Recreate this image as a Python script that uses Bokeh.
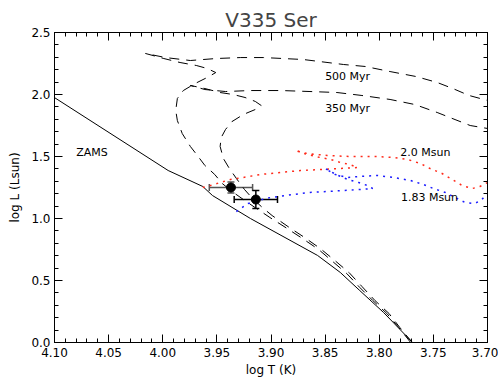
from bokeh.plotting import figure
from bokeh.models import (Range1d, FixedTicker, LinearAxis, Whisker, ColumnDataSource, TeeHead,
                          Label, CustomJSTickFormatter)
from bokeh.embed import file_html
from bokeh.resources import INLINE

# ---------------- data ----------------
x_ticks = [4.10, 4.05, 4.00, 3.95, 3.90, 3.85, 3.80, 3.75, 3.70]
x_tick_labels = ["4.10", "4.05", "4.00", "3.95", "3.90", "3.85", "3.80", "3.75", "3.70"]
y_ticks = [0.0, 0.5, 1.0, 1.5, 2.0, 2.5]
y_tick_labels = ["0.0", "0.5", "1.0", "1.5", "2.0", "2.5"]

zams_logT = [4.100, 3.995, 3.963, 3.954, 3.919, 3.857, 3.836, 3.818, 3.796, 3.767]
zams_logL = [1.975, 1.387, 1.258, 1.185, 1.000, 0.702, 0.565, 0.419, 0.242, -0.02]

iso500_logT = [3.771, 3.782, 3.793, 3.806, 3.818, 3.830, 3.843, 3.856, 3.871, 3.885,
               3.901, 3.9135, 3.9255, 3.936, 3.945, 3.952, 3.961, 3.968, 3.9745, 3.982,
               3.9865, 3.988, 3.9865, 3.981, 3.970, 3.959, 3.951, 3.959, 3.969, 3.984,
               3.999, 4.016, 3.9975, 3.9745, 3.951, 3.928, 3.907, 3.870, 3.833, 3.813,
               3.790, 3.766, 3.7465, 3.732, 3.717, 3.700]
iso500_logL = [0.000, 0.121, 0.234, 0.339, 0.444, 0.556, 0.653, 0.750, 0.839, 0.919,
               1.008, 1.081, 1.153, 1.218, 1.282, 1.355, 1.427, 1.508, 1.581, 1.685,
               1.790, 1.871, 1.968, 2.032, 2.089, 2.137, 2.177, 2.210, 2.234, 2.258,
               2.290, 2.331, 2.298, 2.274, 2.290, 2.298, 2.298, 2.282, 2.242, 2.226,
               2.185, 2.145, 2.097, 2.048, 1.992, 1.952]

iso350_logT = [3.7695, 3.781, 3.791, 3.804, 3.816, 3.828, 3.841, 3.8545, 3.869, 3.883,
               3.899, 3.908, 3.917, 3.9245, 3.932, 3.939, 3.944, 3.947, 3.946, 3.942,
               3.936, 3.9255, 3.9145, 3.909, 3.9145, 3.924, 3.935, 3.947, 3.961, 3.9745,
               3.961, 3.942, 3.919, 3.891, 3.864, 3.839, 3.816, 3.790, 3.767, 3.7465,
               3.730, 3.716, 3.700]
iso350_logL = [0.000, 0.121, 0.234, 0.339, 0.452, 0.565, 0.661, 0.758, 0.847, 0.927,
               1.024, 1.089, 1.161, 1.234, 1.323, 1.411, 1.484, 1.581, 1.653, 1.718,
               1.782, 1.839, 1.879, 1.911, 1.944, 1.976, 2.000, 2.016, 2.048, 2.073,
               2.040, 2.024, 2.032, 2.032, 2.024, 2.016, 1.992, 1.960, 1.919, 1.855,
               1.798, 1.750, 1.726]

trk20_logT = [3.963, 3.956, 3.947, 3.9375, 3.9255, 3.910, 3.891, 3.873, 3.8545, 3.836,
              3.820, 3.827, 3.836, 3.845, 3.8545, 3.8665, 3.8775, 3.8665, 3.848, 3.827,
              3.802, 3.787, 3.774, 3.762, 3.753, 3.742, 3.7326, 3.7234, 3.714, 3.707, 3.700]
trk20_logL = [1.250, 1.266, 1.290, 1.315, 1.331, 1.355, 1.371, 1.387, 1.395, 1.403,
              1.411, 1.435, 1.452, 1.476, 1.492, 1.516, 1.548, 1.524, 1.508, 1.500,
              1.500, 1.492, 1.476, 1.444, 1.403, 1.363, 1.315, 1.266, 1.242, 1.258, 1.290]

trk183_logT = [3.932, 3.9265, 3.921, 3.912, 3.9006, 3.879, 3.864, 3.848, 3.833, 3.8175,
               3.806, 3.811, 3.819, 3.829, 3.838, 3.845, 3.850, 3.8406, 3.8296, 3.8175,
               3.802, 3.787, 3.771, 3.759, 3.750, 3.739, 3.728, 3.7207, 3.712, 3.706, 3.700]
trk183_logL = [1.056, 1.089, 1.121, 1.145, 1.169, 1.194, 1.210, 1.218, 1.226, 1.234,
               1.242, 1.266, 1.290, 1.315, 1.347, 1.379, 1.403, 1.355, 1.331, 1.339,
               1.347, 1.331, 1.306, 1.274, 1.242, 1.210, 1.161, 1.129, 1.121, 1.145, 1.202]

star_logT = [3.937, 3.914]
star_logL = [1.250, 1.153]
star_errT = [0.020, 0.020]
star_errL = [0.044, 0.073]
star_err_colors = ["#555555", "black"]

FONT = "DejaVu Sans"

p = figure(width=498, height=385, x_range=Range1d(4.10, 3.70), y_range=Range1d(0.0, 2.5),
           output_backend="svg", toolbar_location=None, title="V335 Ser",
           min_border_left=54, min_border_right=11, min_border_top=32, min_border_bottom=43)
p.title.align = "center"
p.title.text_font = FONT
p.title.text_font_size = "20px"
p.title.text_font_style = "normal"
p.title.standoff = 2
p.grid.visible = False
p.outline_line_color = "black"
p.background_fill_color = "white"
p.border_fill_color = "white"

x_minor = [round(3.70 + 0.01 * i, 2) for i in range(41)]
y_minor = [round(0.1 * i, 1) for i in range(26)]
xt = FixedTicker(ticks=x_ticks, minor_ticks=x_minor)
yt = FixedTicker(ticks=y_ticks, minor_ticks=y_minor)

def style(ax, labels=None, show=True):
    ax.major_tick_in = 8
    ax.major_tick_out = 0
    ax.minor_tick_in = 4
    ax.minor_tick_out = 0
    ax.axis_line_color = "black"
    ax.major_tick_line_color = "black"
    ax.minor_tick_line_color = "black"
    if show:
        ax.major_label_overrides = labels
        ax.major_label_text_font = FONT
        ax.major_label_text_font_size = "12px"
        ax.major_label_text_color = "black"
        ax.axis_label_text_font = FONT
        ax.axis_label_text_font_size = "12px"
        ax.axis_label_text_font_style = "normal"
        ax.axis_label_text_color = "black"
    else:
        ax.formatter = CustomJSTickFormatter(code="return '';")
        ax.major_label_standoff = 0

p.xaxis.ticker = xt
p.yaxis.ticker = yt
style(p.xaxis[0], dict(zip(x_ticks, x_tick_labels)))
style(p.yaxis[0], dict(zip(y_ticks, y_tick_labels)))
p.xaxis.axis_label = "log T (K)"
p.yaxis.axis_label = "log L (Lsun)"
p.xaxis.major_label_standoff = 5
p.xaxis.axis_label_standoff = 3
p.yaxis.major_label_standoff = 4
p.yaxis.axis_label_standoff = 6

top = LinearAxis(ticker=xt)
style(top, show=False)
p.add_layout(top, "above")
right = LinearAxis(ticker=yt)
style(right, show=False)
p.add_layout(right, "right")

# curves
p.line(zams_logT, zams_logL, line_color="black", line_width=1)
p.line(iso500_logT, iso500_logL, line_color="black", line_width=1, line_dash="10 7")
p.line(iso350_logT, iso350_logL, line_color="black", line_width=1, line_dash="10 7")
p.line(trk20_logT, trk20_logL, line_color="#ff2a1a", line_width=1.5, line_dash="2 5")
p.line(trk183_logT, trk183_logL, line_color="#1a1aff", line_width=1.5, line_dash="2 5")

# error bars
for i in range(len(star_logT)):
    src = ColumnDataSource(dict(
        x=[star_logT[i]], y=[star_logL[i]],
        xl=[star_logT[i] - star_errT[i]], xu=[star_logT[i] + star_errT[i]],
        yl=[star_logL[i] - star_errL[i]], yu=[star_logL[i] + star_errL[i]]))
    c = star_err_colors[i]
    p.add_layout(Whisker(source=src, base="y", lower="xl", upper="xu", dimension="width",
                         line_color=c, line_width=1.5,
                         lower_head=TeeHead(size=7, line_color=c, line_width=1.5),
                         upper_head=TeeHead(size=7, line_color=c, line_width=1.5)))
    p.add_layout(Whisker(source=src, base="x", lower="yl", upper="yu", dimension="height",
                         line_color=c, line_width=1.5,
                         lower_head=TeeHead(size=7, line_color=c, line_width=1.5),
                         upper_head=TeeHead(size=7, line_color=c, line_width=1.5)))
p.scatter(star_logT, star_logL, size=9, fill_color="black", line_color="black")

# annotations
for txt, xx, yy in [("500 Myr", 3.850, 2.145), ("350 Myr", 3.850, 1.887),
                    ("2.0 Msun", 3.7806, 1.532), ("1.83 Msun", 3.780, 1.169),
                    ("ZAMS", 4.080, 1.532)]:
    p.add_layout(Label(x=xx, y=yy, text=txt, text_font=FONT, text_font_size="11px",
                       text_baseline="middle", text_align="left", text_color="black"))

open("out.html", "w").write(file_html(p, INLINE))
